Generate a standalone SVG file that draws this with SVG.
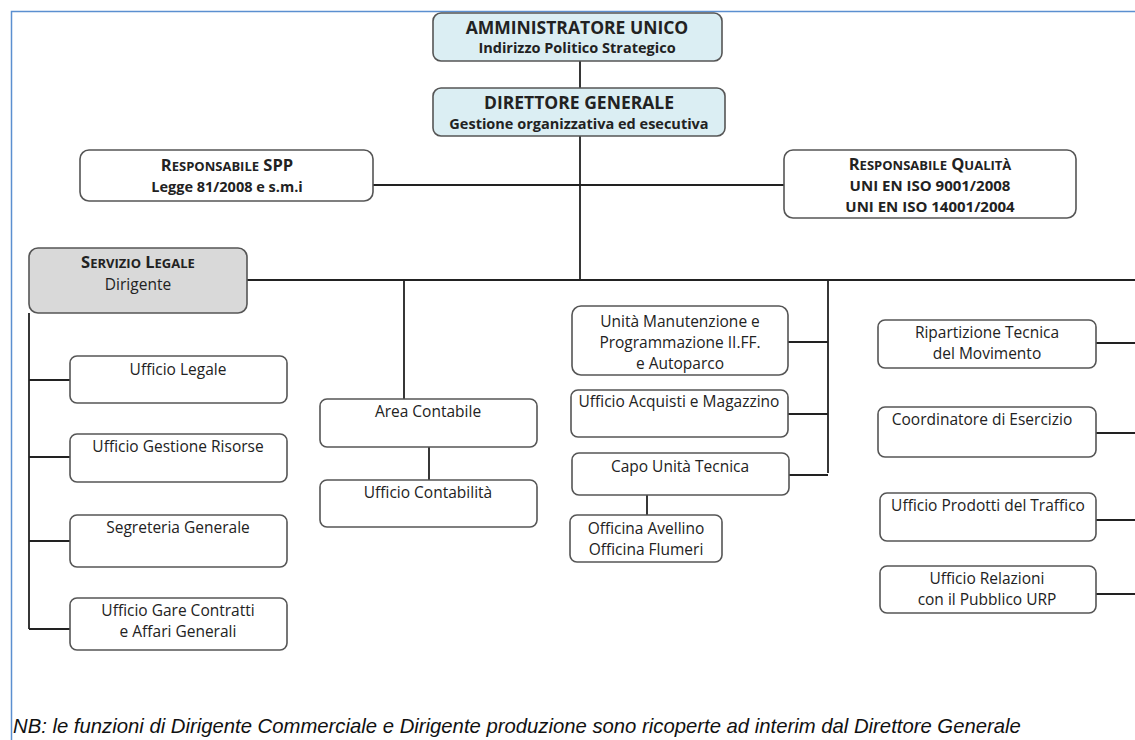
<svg xmlns="http://www.w3.org/2000/svg" width="1135" height="740" viewBox="0 0 1135 740">
<style>
.box{fill:#fff;stroke:#555;stroke-width:1.6}
.top{fill:#dbeef3;stroke:#555;stroke-width:1.6}
.grey{fill:#d9d9d9;stroke:#555;stroke-width:1.6}
.ln{stroke:#222;stroke-width:1.8;fill:none}
.t{font-family:"Open Sans","Liberation Sans",sans-serif;font-size:15.5px;fill:#222;text-anchor:middle}
.b{font-family:"Open Sans","Liberation Sans",sans-serif;font-weight:bold;fill:#222;text-anchor:middle}
.nb{font-family:"Liberation Sans",Arial,sans-serif;font-style:italic;font-size:20.3px;fill:#111}
</style>
<rect width="1135" height="740" fill="#fff"/>
<path d="M11.5 740 V11.5 H1135" fill="none" stroke="#5b8fd0" stroke-width="1.5"/>
<g id="connectors">
<path class="ln" d="M580 61 V88 M580 136 V280 M373 185 H784 M247 280 H1135"/>
<path class="ln" d="M29 313 V629 M29 380 H70 M29 457 H70 M29 541 H70 M29 629 H70"/>
<path class="ln" d="M404 280 V399 M429 447 V480"/>
<path class="ln" d="M828 280 V473 M788 342 H828 M788 414 H828 M789 475 H828 M647 495 V515"/>
<path class="ln" d="M1096 343 H1135 M1096 433 H1135 M1096 520 H1135 M1096 594 H1135"/>
</g>
<g id="amministratore">
<rect class="top" x="433" y="13" width="289" height="48" rx="8"/>
<text class="b" x="577" y="34" font-size="17.5">AMMINISTRATORE UNICO</text>
<text class="b" x="577" y="53" font-size="14.5">Indirizzo Politico Strategico</text>
</g>
<g id="direttore">
<rect class="top" x="433" y="88" width="292" height="48" rx="8"/>
<text class="b" x="579" y="109" font-size="17.5">DIRETTORE GENERALE</text>
<text class="b" x="579" y="129" font-size="14.5">Gestione organizzativa ed esecutiva</text>
</g>
<g id="spp">
<rect class="box" x="80" y="150" width="293" height="51" rx="9"/>
<text class="b" x="227" y="171" font-size="16.5">R<tspan font-size="13">ESPONSABILE</tspan> SPP</text>
<text class="b" x="227" y="192" font-size="14.5">Legge 81/2008  e s.m.i</text>
</g>
<g id="qualita">
<rect class="box" x="784" y="150" width="292" height="68" rx="9"/>
<text class="b" x="930" y="170" font-size="16.5">R<tspan font-size="13">ESPONSABILE</tspan> Q<tspan font-size="13">UALITÀ</tspan></text>
<text class="b" x="930" y="191" font-size="15">UNI EN ISO 9001/2008</text>
<text class="b" x="930" y="212" font-size="15">UNI EN ISO 14001/2004</text>
</g>
<g id="servizio-legale">
<rect class="grey" x="29" y="248" width="218" height="65" rx="9"/>
<text class="b" x="138" y="268" font-size="16.5">S<tspan font-size="13">ERVIZIO</tspan> L<tspan font-size="13">EGALE</tspan></text>
<text class="t" x="138" y="290">Dirigente</text>
</g>
<g id="ufficio-legale">
<rect class="box" x="70" y="356" width="217" height="47" rx="7"/>
<text class="t" x="178" y="375">Ufficio Legale</text>
</g>
<g id="gestione-risorse">
<rect class="box" x="70" y="434" width="217" height="48" rx="7"/>
<text class="t" x="178" y="452">Ufficio Gestione Risorse</text>
</g>
<g id="segreteria">
<rect class="box" x="70" y="515" width="217" height="52" rx="7"/>
<text class="t" x="178" y="533">Segreteria Generale</text>
</g>
<g id="gare">
<rect class="box" x="70" y="598" width="217" height="52" rx="7"/>
<text class="t" x="178" y="616">Ufficio Gare Contratti</text>
<text class="t" x="178" y="637">e Affari Generali</text>
</g>
<g id="area-contabile">
<rect class="box" x="320" y="399" width="217" height="48" rx="7"/>
<text class="t" x="428" y="417">Area Contabile</text>
</g>
<g id="ufficio-contabilita">
<rect class="box" x="320" y="480" width="217" height="47" rx="7"/>
<text class="t" x="428" y="498">Ufficio Contabilità</text>
</g>
<g id="manutenzione">
<rect class="box" x="572" y="306" width="216" height="69" rx="9"/>
<text class="t" x="680" y="327">Unità Manutenzione  e</text>
<text class="t" x="680" y="348">Programmazione  II.FF.</text>
<text class="t" x="680" y="369">e Autoparco</text>
</g>
<g id="acquisti">
<rect class="box" x="571" y="390" width="217" height="47" rx="7"/>
<text class="t" x="679" y="407">Ufficio Acquisti  e Magazzino</text>
</g>
<g id="capo-unita">
<rect class="box" x="572" y="453" width="217" height="42" rx="7"/>
<text class="t" x="680" y="472">Capo Unità  Tecnica</text>
</g>
<g id="officina">
<rect class="box" x="570" y="515" width="152" height="47" rx="7"/>
<text class="t" x="646" y="534">Officina Avellino</text>
<text class="t" x="646" y="555">Officina Flumeri</text>
</g>
<g id="ripartizione">
<rect class="box" x="878" y="320" width="218" height="48" rx="7"/>
<text class="t" x="987" y="338">Ripartizione Tecnica</text>
<text class="t" x="987" y="359">del Movimento</text>
</g>
<g id="coordinatore">
<rect class="box" x="878" y="407" width="218" height="50" rx="7"/>
<text class="t" x="982" y="425">Coordinatore  di Esercizio</text>
</g>
<g id="prodotti">
<rect class="box" x="880" y="493" width="216" height="48" rx="7"/>
<text class="t" x="988" y="511">Ufficio Prodotti  del Traffico</text>
</g>
<g id="relazioni">
<rect class="box" x="880" y="566" width="216" height="47" rx="7"/>
<text class="t" x="987" y="584">Ufficio Relazioni</text>
<text class="t" x="987" y="605">con il Pubblico  URP</text>
</g>
<text class="nb" x="13" y="733">NB: le funzioni di Dirigente Commerciale e Dirigente produzione sono ricoperte ad interim dal Direttore Generale</text>
</svg>
